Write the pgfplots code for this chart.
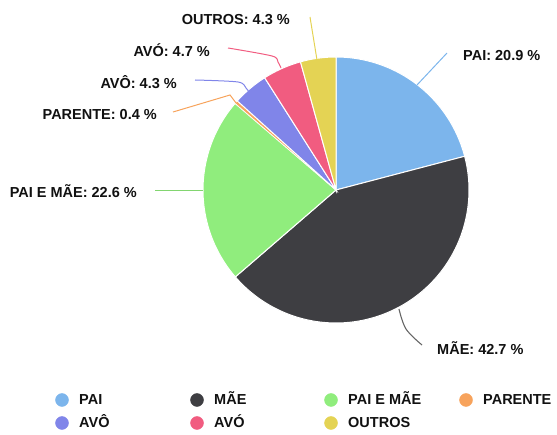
\documentclass[border=0pt]{standalone}
\usepackage{pgfplots}
\pgfplotsset{compat=1.18}
\usepackage{fontspec}
\setmainfont{Liberation Sans}
\definecolor{cPai}{HTML}{7CB5EC}
\definecolor{cMae}{HTML}{3E3E42}
\definecolor{cPaiMae}{HTML}{90ED7D}
\definecolor{cParente}{HTML}{F7A35C}
\definecolor{cAvoA}{HTML}{8085E9}
\definecolor{cAvoB}{HTML}{F15C80}
\definecolor{cOutros}{HTML}{E4D354}
\definecolor{txt}{HTML}{111111}
\newcommand\lbl{\fontsize{14.5}{17}\selectfont\bfseries\color{txt}}
\begin{document}
\begin{tikzpicture}
\begin{axis}[name=ax, scale only axis, width=557pt, height=435pt,
  xmin=0, xmax=557, ymin=0, ymax=435, y dir=reverse, hide axis, clip=false]
% pie slices: domain = cumulative percentages (clockwise from top)
\addplot[fill=cPai, draw=white, line width=1pt, domain=0:20.9, samples=40, variable=\t]
  ({336+133*sin(3.6036*\t)}, {190-133*cos(3.6036*\t)}) -- (axis cs:336,190) -- cycle;
\addplot[fill=cMae, draw=white, line width=1pt, domain=20.9:63.6, samples=80, variable=\t]
  ({336+133*sin(3.6036*\t)}, {190-133*cos(3.6036*\t)}) -- (axis cs:336,190) -- cycle;
\addplot[fill=cPaiMae, draw=white, line width=1pt, domain=63.6:86.2, samples=40, variable=\t]
  ({336+133*sin(3.6036*\t)}, {190-133*cos(3.6036*\t)}) -- (axis cs:336,190) -- cycle;
\addplot[fill=cParente, draw=white, line width=0.6pt, domain=86.2:86.6, samples=3, variable=\t]
  ({336+133*sin(3.6036*\t)}, {190-133*cos(3.6036*\t)}) -- (axis cs:336,190) -- cycle;
\addplot[fill=cAvoA, draw=white, line width=1pt, domain=86.6:90.9, samples=10, variable=\t]
  ({336+133*sin(3.6036*\t)}, {190-133*cos(3.6036*\t)}) -- (axis cs:336,190) -- cycle;
\addplot[fill=cAvoB, draw=white, line width=1pt, domain=90.9:95.6, samples=10, variable=\t]
  ({336+133*sin(3.6036*\t)}, {190-133*cos(3.6036*\t)}) -- (axis cs:336,190) -- cycle;
\addplot[fill=cOutros, draw=white, line width=1pt, domain=95.6:99.9, samples=10, variable=\t]
  ({336+133*sin(3.6036*\t)}, {190-133*cos(3.6036*\t)}) -- (axis cs:336,190) -- cycle;
% connectors
\addplot[cPai, line width=1pt] coordinates {(417,85) (447,53)};
\addplot[black!60, line width=1.1pt, smooth, tension=0.6] coordinates {(399,309) (406,329) (422,345)};
\addplot[cPaiMae!90!black, line width=1pt] coordinates {(155,191) (203,191)};
\addplot[cParente, line width=1pt] coordinates {(173,112) (230,95) (236,103)};
\addplot[cAvoA, line width=1pt, smooth, tension=0.5] coordinates {(195,80) (238,82) (246,88) (249,92)};
\addplot[cAvoB, line width=1pt, smooth, tension=0.5] coordinates {(228,48) (272,56) (278,62) (281,68)};
\addplot[cOutros, line width=1pt] coordinates {(310,17) (317,60)};
% data labels
\node[anchor=base west, inner sep=0] at (axis cs:463,61) {\lbl PAI: 20.9 \%};
\node[anchor=base west, inner sep=0] at (axis cs:437,355) {\lbl MÃE: 42.7 \%};
\node[anchor=base east, inner sep=0] at (axis cs:137,198) {\lbl PAI E MÃE: 22.6 \%};
\node[anchor=base east, inner sep=0] at (axis cs:157,120) {\lbl PARENTE: 0.4 \%};
\node[anchor=base east, inner sep=0] at (axis cs:177,89) {\lbl AVÔ: 4.3 \%};
\node[anchor=base east, inner sep=0] at (axis cs:210,57) {\lbl AVÓ: 4.7 \%};
\node[anchor=base east, inner sep=0] at (axis cs:290,25) {\lbl OUTROS: 4.3 \%};
% legend
\addplot[only marks, mark=*, mark size=6.5pt, cPai] coordinates {(62,400)};
\addplot[only marks, mark=*, mark size=6.5pt, cMae] coordinates {(197,400)};
\addplot[only marks, mark=*, mark size=6.5pt, cPaiMae] coordinates {(331,400)};
\addplot[only marks, mark=*, mark size=6.5pt, cParente] coordinates {(466,400)};
\addplot[only marks, mark=*, mark size=6.5pt, cAvoA] coordinates {(62,423)};
\addplot[only marks, mark=*, mark size=6.5pt, cAvoB] coordinates {(197,423)};
\addplot[only marks, mark=*, mark size=6.5pt, cOutros] coordinates {(331,423)};
\node[anchor=base west, inner sep=0] at (axis cs:79,405) {\lbl PAI};
\node[anchor=base west, inner sep=0] at (axis cs:214,405) {\lbl MÃE};
\node[anchor=base west, inner sep=0] at (axis cs:348,405) {\lbl PAI E MÃE};
\node[anchor=base west, inner sep=0] at (axis cs:483,405) {\lbl PARENTE};
\node[anchor=base west, inner sep=0] at (axis cs:79,428) {\lbl AVÔ};
\node[anchor=base west, inner sep=0] at (axis cs:214,428) {\lbl AVÓ};
\node[anchor=base west, inner sep=0] at (axis cs:348,428) {\lbl OUTROS};
\end{axis}
\pgfresetboundingbox
\path (ax.south west) rectangle (ax.north east);
\end{tikzpicture}
\end{document}
